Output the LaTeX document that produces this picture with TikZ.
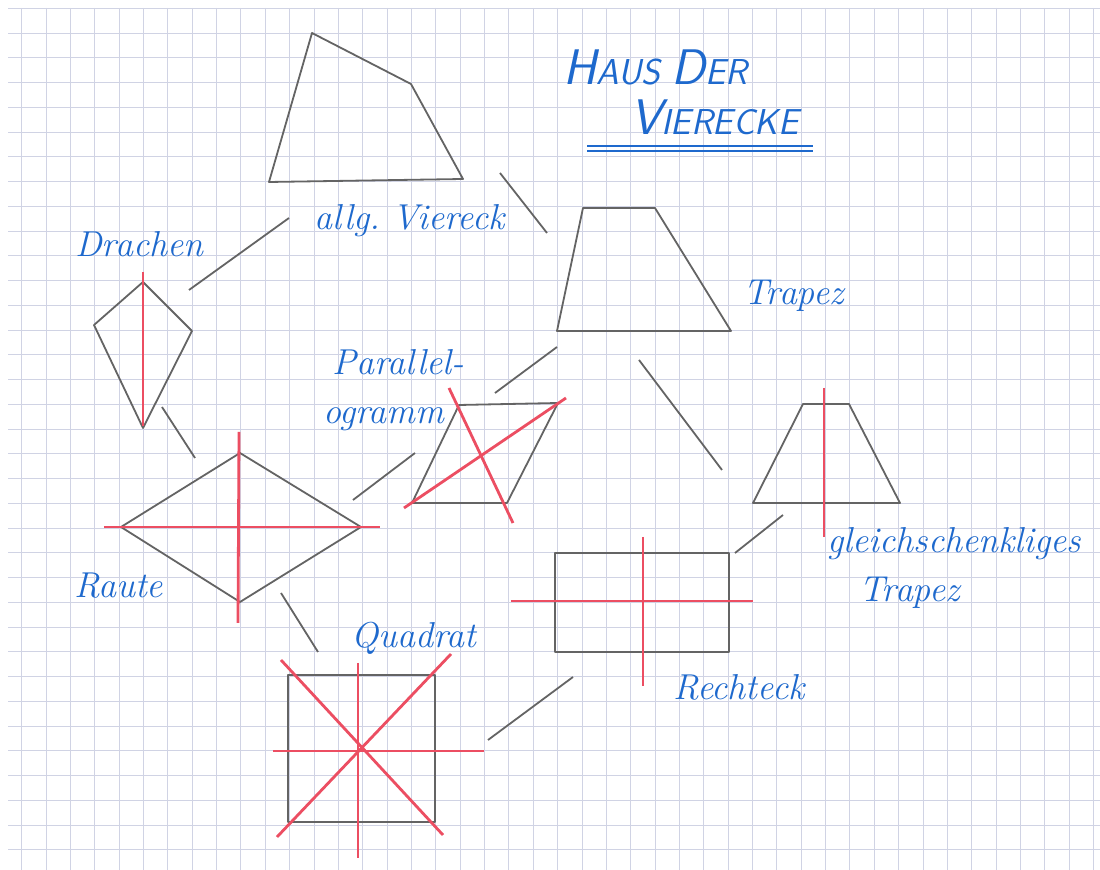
\documentclass[tikz,border=0pt]{standalone}
\usepackage{fontspec}
\usepackage{tikz}
\usetikzlibrary{positioning}
\definecolor{cInk}{RGB}{30,105,205}
\definecolor{cRed}{RGB}{236,78,98}
\definecolor{cPencil}{RGB}{100,100,100}
\definecolor{cGrid}{RGB}{208,211,228}
\newcommand{\Tcap}[1]{{\fontsize{25}{25}\selectfont #1}}
\frenchspacing
\tikzset{
	gridline/.style={draw=cGrid, line width=0.45pt},
	pencil/.style  ={draw=cPencil, line width=0.9pt, line join=round},
	axis/.style    ={draw=cRed, line width=1.4pt},
	linkline/.style={draw=cPencil, line width=0.9pt},
	ink/.style     ={text=cInk, font=\fontsize{18}{22}\selectfont\itshape, inner sep=0pt, anchor=base west},
	titletext/.style={text=cInk, font=\fontsize{18}{20}\selectfont\sffamily\itshape, inner sep=0pt, anchor=base west},
}

\begin{document}
\begin{tikzpicture}[x=0.5pt, y=-0.5pt]
	\useasboundingbox (0,0) rectangle (1100,870);
	\fill[white] (0,0) rectangle (1100,870);
	% squared paper
	\foreach \k in {0,...,44} \draw[gridline] ({21.7+24.36*\k},8) -- ({21.7+24.36*\k},870);
	\foreach \k in {0,...,34} \draw[gridline] (8,{8.3+24.75*\k}) -- (1100,{8.3+24.75*\k});

	% title
	\node[titletext] (tHaus) at (563,85) {\Tcap{H}AUS \Tcap{D}ER};
	\node[titletext] (tVier) at (630,135) {\Tcap{V}IERECKE};
	\draw[cInk, line width=1pt] (587,146) -- (813,146);
	\draw[cInk, line width=1pt] (587,151) -- (813,151);

	% quadrilaterals
	\draw[pencil] (312,33) -- (411,84) -- (463,179) -- (269,182) -- cycle;
	\draw[pencil] (557,331) -- (583,208) -- (655,208) -- (731,331) -- cycle;
	\draw[pencil] (143,282) -- (192,331) -- (143,428) -- (94,325) -- cycle;
	\draw[axis] (143,272) -- (143,426);
	\draw[pencil] (412,503) -- (459,405) -- (558,403) -- (507,503) -- cycle;
	\draw[axis] (404,508) -- (566,398);
	\draw[axis] (449,388) -- (513,523);
	\draw[pencil] (753,503) -- (803,404) -- (849,404) -- (900,503) -- cycle;
	\draw[axis] (824,388) -- (824,537);
	\draw[pencil] (240,453) -- (361,527) -- (240,602) -- (121,527) -- cycle;
	\draw[axis] (104,527) -- (380,527);
	\draw[axis] (239,432) -- (238,623);
	\draw[pencil] (555,553) rectangle (729,652);
	\draw[axis] (511,601) -- (753,601);
	\draw[axis] (643,537) -- (643,686);
	\draw[pencil] (288,675) rectangle (435,822);
	\draw[axis] (358,663) -- (358,858);
	\draw[axis] (273,751) -- (484,751);
	\draw[axis] (281,660) -- (443,835);
	\draw[axis] (451,654) -- (277,837);

	% labels
	\node[ink] (lViereck) at (314,230) {allg. Viereck};
	\node[ink] (lDrachen) at (75,257) {Drachen};
	\node[ink] (lTrapez) at (743,305) {Trapez};
	\node[ink] (lParA) at (332,375) {Parallel-};
	\node[ink] (lParB) at (323,424) {ogramm};
	\node[ink] (lRaute) at (74,598) {Raute};
	\node[ink] (lQuadrat) at (351,648) {Quadrat};
	\node[ink] (lRechteck) at (673,700) {Rechteck};
	\node[ink] (lGleichA) at (827,553) {gleichschenkliges};
	\node[ink] (lGleichB) at (859,602) {Trapez};

	% links of the house
	\coordinate (vd1) at (289,218); \coordinate (vd2) at (189,290);
	\coordinate (vt1) at (500,173); \coordinate (vt2) at (547,233);
	\coordinate (dr1) at (162,407); \coordinate (dr2) at (195,458);
	\coordinate (tp1) at (557,347); \coordinate (tp2) at (495,393);
	\coordinate (tr1) at (639,360); \coordinate (tr2) at (722,470);
	\coordinate (rp1) at (353,500); \coordinate (rp2) at (415,453);
	\coordinate (rq1) at (281,593); \coordinate (rq2) at (318,652);
	\coordinate (qr1) at (488,740); \coordinate (qr2) at (573,677);
	\coordinate (rg1) at (735,553); \coordinate (rg2) at (783,515);
	\foreach \a/\b in {vd1/vd2, vt1/vt2, dr1/dr2, tp1/tp2, tr1/tr2, rp1/rp2, rq1/rq2, qr1/qr2, rg1/rg2}
		\draw[linkline] (\a) -- (\b);
\end{tikzpicture}
\end{document}
